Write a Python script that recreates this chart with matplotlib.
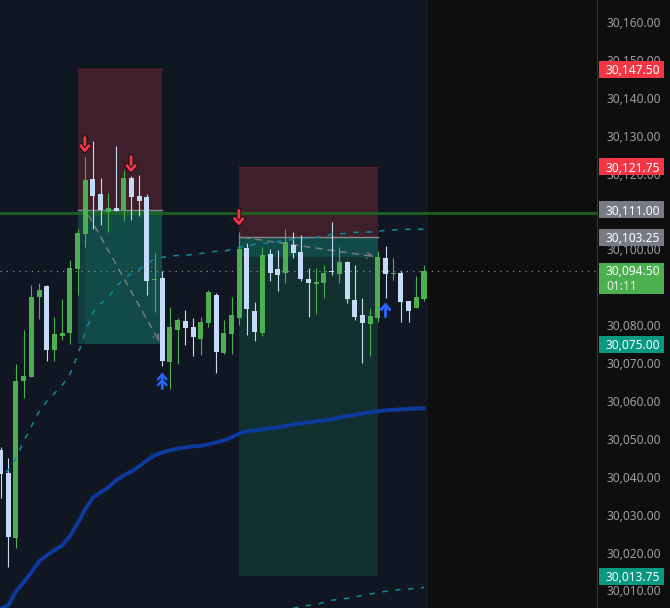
import matplotlib
matplotlib.use("Agg")
import matplotlib.pyplot as plt
import matplotlib.patheffects as pe
from matplotlib.patches import Rectangle
from matplotlib.ticker import FuncFormatter

plt.rcParams['font.family'] = ['Noto Sans', 'DejaVu Sans']

# OHLC per bar
opens = [30047, 30041, 30023.75, 30065.25, 30066.25, 30087.5, 30090.25, 30073.5, 30077.25, 30078,
         30094.75, 30104, 30118.5, 30114.5, 30109.75, 30111, 30110.5, 30118.75, 30114, 30113.75,
         30092, 30092.5, 30070.25, 30078.75, 30081, 30079.5, 30076.25, 30080.5, 30088, 30072.75,
         30077.75, 30082, 30100.25, 30083.75, 30078, 30098.75, 30094.75, 30093.75, 30101.25, 30099.25,
         30092.25, 30090.75, 30091.25, 30094.25, 30093.5, 30096.75, 30086.75, 30082.75, 30080.25, 30082,
         30097.75, 30093.5, 30093.75, 30086.5, 30084.5, 30087]
highs = [30047.75, 30045, 30069.75, 30078.75, 30090.5, 30091.25, 30090.5, 30082.25, 30087, 30097.25,
         30105.25, 30124.25, 30128.5, 30118.75, 30115, 30127.25, 30121, 30119.25, 30119.5, 30114.5,
         30099, 30094.25, 30084.75, 30082, 30084, 30082, 30082.25, 30089.25, 30088.5, 30081.25,
         30087.5, 30104.5, 30101.75, 30086, 30100.5, 30100, 30099.75, 30105.5, 30104.5, 30103.75,
         30095, 30095, 30095.75, 30107.25, 30100.75, 30097, 30095.75, 30087.25, 30084.5, 30099.5,
         30101, 30097.75, 30094.25, 30086.5, 30093, 30095.75]
lows = [30034.5, 30016.25, 30021.25, 30060.75, 30066.25, 30081.75, 30070.5, 30070.5, 30076, 30075,
        30088, 30100.75, 30105.25, 30106.5, 30104.5, 30110, 30107.5, 30107.75, 30108.75, 30088,
        30083.5, 30069.25, 30063.25, 30069.75, 30074.75, 30071.75, 30072, 30079.5, 30067.25, 30072.5,
        30072.5, 30080, 30077.5, 30075.75, 30077.25, 30091.75, 30089, 30091.25, 30097.75, 30091.75,
        30082.25, 30083, 30087.25, 30093.25, 30091, 30085.75, 30081.25, 30070, 30071.75, 30080.75,
        30087.25, 30092, 30080.75, 30080.75, 30084.5, 30086.25]
closes = [30040.75, 30024, 30065.25, 30066.5, 30087.5, 30089.25, 30073.5, 30077.75, 30078, 30095,
          30104.25, 30118.25, 30114, 30110.5, 30111, 30110.25, 30118.75, 30113.75, 30112.75, 30091.75,
          30092.25, 30070.5, 30079.5, 30081.25, 30079.25, 30077, 30080.75, 30088.75, 30073, 30078,
          30082.75, 30100, 30084.25, 30078.25, 30098.5, 30093.75, 30093.25, 30102, 30099, 30092.25,
          30091, 30091.5, 30093.75, 30094, 30096.75, 30087, 30082.25, 30080.5, 30082.5, 30098,
          30093.5, 30093.75, 30086, 30083.75, 30087.5, 30094.25]

# moving averages, one value per bar
ma_slow = [30005.26, 30006.05, 30009.75, 30012.12, 30014.76, 30017.66, 30019.25, 30020.57, 30021.89, 30024.26,
           30027.69, 30031.39, 30034.55, 30035.87, 30037.19, 30039.04, 30040.36, 30041.41, 30042.73, 30044.32,
           30045.64, 30046.43, 30046.96, 30047.48, 30047.75, 30048.01, 30048.14, 30048.54, 30049.07, 30049.6,
           30050.39, 30051.44, 30051.97, 30052.23, 30052.5, 30052.76, 30053.03, 30053.42, 30053.82, 30054.08,
           30054.35, 30054.61, 30054.87, 30055.14, 30055.66, 30055.93, 30056.33, 30056.72, 30056.98, 30057.25,
           30057.51, 30057.64, 30057.78, 30057.91, 30058.04, 30058.04]
ma_fast = [30040.1, 30041.7, 30044.8, 30049.3, 30053.3, 30057.2, 30059.9, 30062, 30064.1, 30067,
           30072, 30078.1, 30083.4, 30085.7, 30087.3, 30090.2, 30092.1, 30093.7, 30094.7, 30096.3,
           30097.4, 30097.9, 30098.2, 30098.4, 30098.4, 30098.7, 30098.9, 30099.2, 30099.5, 30099.5,
           30100, 30100.5, 30101.1, 30101.3, 30101.6, 30101.8, 30102.1, 30102.4, 30102.6, 30102.9,
           30103, 30103.2, 30103.4, 30104, 30104.1, 30104.2, 30104.5, 30104.5, 30104.6, 30104.8,
           30105, 30105.1, 30105.3, 30105.3, 30105.3, 30105.3]
ma_low_bars = list(range(38, 56))
ma_low = [30005.26, 30005.8, 30006.05, 30006.3, 30006.85, 30007.4, 30007.65, 30007.9, 30008.2, 30008.7,
          30009, 30009.5, 30009.75, 30010, 30010.3, 30010.4, 30010.55, 30010.8]

price_ticks = list(range(30010, 30161, 10))

# short position boxes: bars, stop, entry, target
box1_bars = (10, 21)
box1_levels = (30147.5, 30110.5, 30075)
box1_fill_bar = 11
box2_bars = (31, 49)
box2_levels = (30121.75, 30103.25, 30013.75)
box2_reached = 30098
hline_price = 30109.5
last_price = 30094.25

# price scale tags
tag_prices = [30147.5, 30121.75, 30110.5, 30103.25, 30075, 30013.75]
tag_labels = ["30,147.50", "30,121.75", "30,111.00", "30,103.25", "30,075.00", "30,013.75"]
tag_colors = ["#f23645", "#f23645", "#787b86", "#787b86", "#089981", "#089981"]

# signal arrows (bar, tail price, tip price)
sell_arrows = [(11, 30129.5, 30125.5), (17, 30124.5, 30120.25), (31, 30110.25, 30106.25)]
buy_arrows = [(50, 30082.25, 30086)]
double_buy = (21, 30063.25, 30067.5)

GREEN = "#4caf50"
WHITE = "#c4daf7"
BG = "#111722"
BG_DARK = "#0e0e0e"
RED_BOX = "#3f1f2a"
RED_EDGE = "#5a2130"
TEAL = "#124a48"
TEAL_DIM = "#12302f"

fig = plt.figure(figsize=(6.70, 6.08), dpi=100, facecolor=BG_DARK)
ax = fig.add_axes([0, 0, 597 / 670, 1], facecolor=BG)
ax.set_xlim(-0.07, 77.47)
ax.set_ylim(30005.36, 30165.81)
ax.axvspan(55.52, 77.47, color=BG_DARK, lw=0, zorder=0)

# position boxes
x0, x1 = box1_bars
ax.add_patch(Rectangle((x0, box1_levels[1]), x1 - x0, box1_levels[0] - box1_levels[1], fc=RED_BOX, lw=0, zorder=1))
ax.add_patch(Rectangle((x0, box1_levels[2]), x1 - x0, box1_levels[1] - box1_levels[2], fc="#123c3d", lw=0, zorder=1))
ax.add_patch(Rectangle((box1_fill_bar, box1_levels[2]), x1 - box1_fill_bar, box1_levels[1] - box1_levels[2], fc=TEAL, lw=0, zorder=1))
ax.plot([x0, x1], [box1_levels[0]] * 2, color=RED_EDGE, lw=1, zorder=2)
ax.plot([x0, x1], [box1_levels[1]] * 2, color="#8a8a8a", lw=1, zorder=2)

x0, x1 = box2_bars
ax.add_patch(Rectangle((x0, box2_levels[1]), x1 - x0, box2_levels[0] - box2_levels[1], fc=RED_BOX, lw=0, zorder=1))
ax.add_patch(Rectangle((x0, box2_levels[2]), x1 - x0, box2_levels[1] - box2_levels[2], fc=TEAL_DIM, lw=0, zorder=1))
ax.add_patch(Rectangle((x0, box2_reached), x1 - x0, box2_levels[1] - box2_reached, fc=TEAL, lw=0, zorder=1))
ax.plot([x0, x1], [box2_levels[0]] * 2, color=RED_EDGE, lw=1, zorder=2)
ax.plot([x0, x1], [box2_levels[1]] * 2, color="#8a8a8a", lw=1, zorder=2)

# trade path arrows
ax.annotate("", xy=(20.8, box1_levels[2]), xytext=(11.3, box1_levels[1] - 1),
            arrowprops=dict(arrowstyle="->", color="#7a7a7a", lw=1.1, ls=(0, (4, 4))), zorder=2)
ax.annotate("", xy=(48.9, box2_reached), xytext=(31.2, box2_levels[1]),
            arrowprops=dict(arrowstyle="->", color="#7a7a7a", lw=1.1, ls=(0, (4, 4))), zorder=2)

ax.axhline(hline_price, color="#1b6a1f", lw=2.2, alpha=0.85, zorder=3)
ax.axhline(last_price, color="#7f9a80", lw=0.9, ls=(0, (1, 4)), zorder=3)

# candles
bars = list(range(len(opens)))
colors = [GREEN if c >= o else WHITE for o, c in zip(opens, closes)]
ax.vlines(bars, lows, highs, colors=colors, lw=0.8, zorder=4)
for i in bars:
    bottom = min(opens[i], closes[i])
    height = abs(closes[i] - opens[i])
    ax.bar(i, height, bottom=bottom, width=0.65, color=colors[i], lw=0, zorder=5)

ax.plot(bars, ma_slow, color="#0d3a9e", lw=2.8, zorder=6, solid_capstyle="round")
ax.plot(bars, ma_fast, color="#0f8c9e", lw=1.1, ls=(4, (3.5, 5)), zorder=6)
ax.plot(ma_low_bars, ma_low, color="#0f8c9e", lw=1.1, ls=(0, (3.5, 5)), zorder=6)

# signal arrows
outline = [pe.withStroke(linewidth=3.6, foreground="#1a1015")]
for bar, tail, tip in sell_arrows:
    ax.annotate("", xy=(bar - 0.05, tip), xytext=(bar - 0.05, tail),
                arrowprops=dict(arrowstyle="->,head_width=0.3,head_length=0.35", color="#f23645", lw=2.1,
                                shrinkA=0, shrinkB=0, path_effects=outline), zorder=7)
for bar, tail, tip in buy_arrows:
    ax.annotate("", xy=(bar, tip), xytext=(bar, tail),
                arrowprops=dict(arrowstyle="->,head_width=0.3,head_length=0.35", color="#2962ff", lw=2.1,
                                shrinkA=0, shrinkB=0), zorder=7)
bar, tail, tip = double_buy
for shift in (0, -1.5):
    ax.annotate("", xy=(bar, tip + shift), xytext=(bar, tail),
                arrowprops=dict(arrowstyle="->,head_width=0.3,head_length=0.35", color="#2962ff", lw=1.8,
                                shrinkA=0, shrinkB=0), zorder=7)

# price scale
ax.yaxis.tick_right()
ax.set_yticks(price_ticks)
ax.yaxis.set_major_formatter(FuncFormatter(lambda v, p: f"{v:,.2f}"))
ax.tick_params(axis="y", length=0, pad=6.5, labelsize=8.6, labelcolor="#9b9da3")
ax.set_xticks([])
for name, spine in ax.spines.items():
    spine.set_visible(name == "right")
ax.spines["right"].set_color("#333333")

scale = ax.get_yaxis_transform()
tag_left = 598.5 / 597
tag_width = 65.5 / 597
text_x = 606 / 597
tag_h = 4.5


def price_tag(price, label, color):
    ax.add_patch(Rectangle((tag_left, price - tag_h / 2), tag_width, tag_h, fc=color, lw=0,
                           transform=scale, clip_on=False, zorder=8))
    ax.text(text_x, price, label, transform=scale, color="white", fontsize=8.6, fontweight="medium",
            va="center_baseline", ha="left", clip_on=False, zorder=9)


for price, label, color in zip(tag_prices, tag_labels, tag_colors):
    price_tag(price, label, color)

# hline tag shows under the entry tag, last price tag has the countdown
ax.add_patch(Rectangle((tag_left, hline_price - 0.9), tag_width, 1.1, fc="#1b6a1f", lw=0,
                       transform=scale, clip_on=False, zorder=7))
ax.add_patch(Rectangle((tag_left, 30088.1), tag_width, 8.2, fc=GREEN, lw=0,
                       transform=scale, clip_on=False, zorder=8))
ax.text(text_x, 30094.45, "30,094.50", transform=scale, color="white", fontsize=8.6, fontweight="medium",
        va="center_baseline", ha="left", clip_on=False, zorder=9)
ax.text(text_x, 30090.5, "01:11", transform=scale, color="#dff0df", fontsize=8.6,
        va="center_baseline", ha="left", clip_on=False, zorder=9)

fig.savefig("out.png", dpi=100, facecolor=fig.get_facecolor())
